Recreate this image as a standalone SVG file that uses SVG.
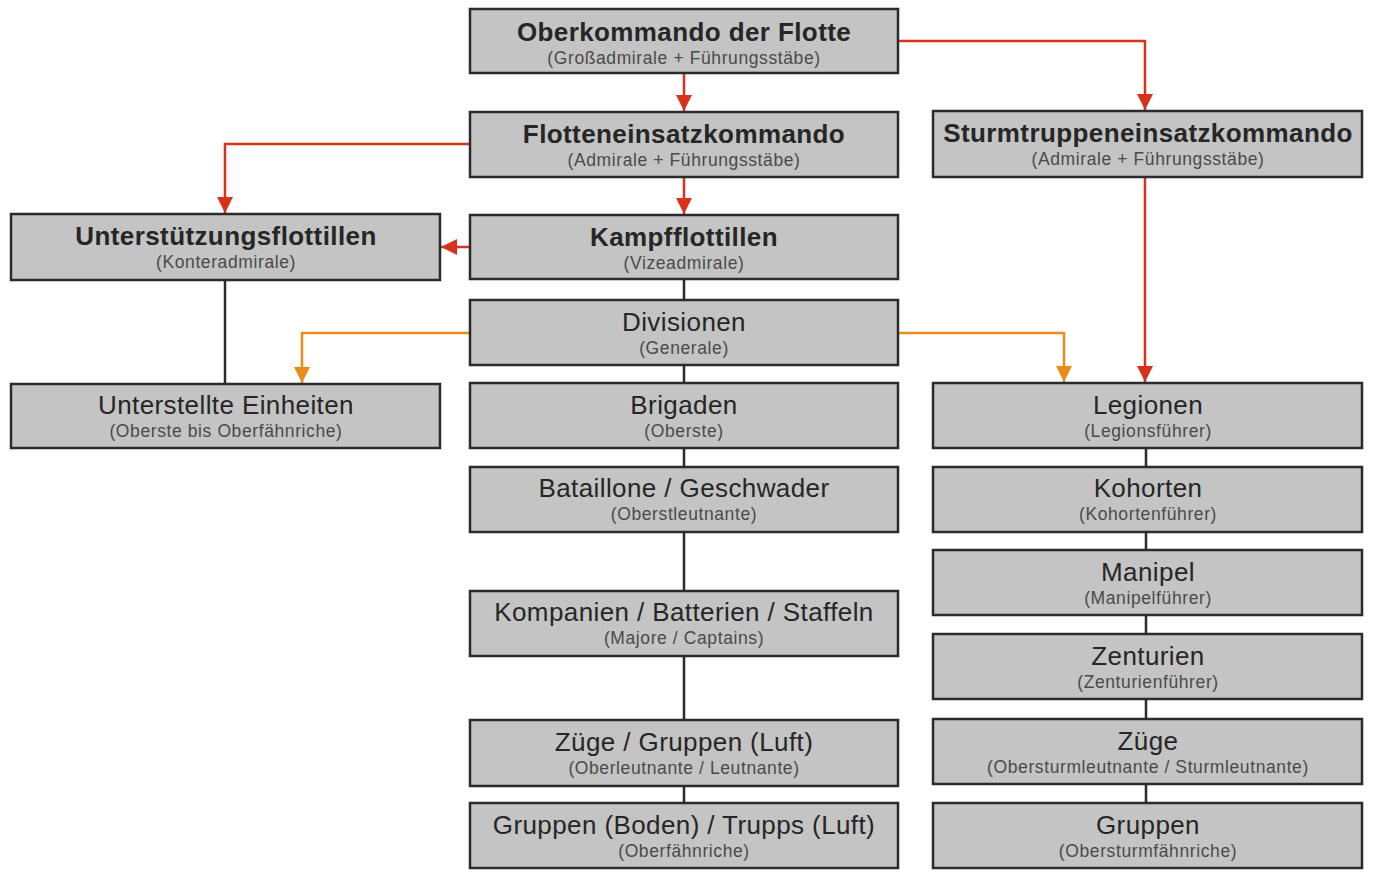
<svg xmlns="http://www.w3.org/2000/svg" width="1374" height="877" viewBox="0 0 1374 877">
<defs>
<style>
.box{fill:#c4c4c4;stroke:#2b2b2b;stroke-width:2.5}
.t{font-family:"Liberation Sans",Arial,sans-serif;font-size:26px;letter-spacing:0.4px;fill:#262626;text-anchor:middle}
.b{font-weight:bold}
.s{font-family:"Liberation Sans",Arial,sans-serif;font-size:17.5px;letter-spacing:0.6px;fill:#4a4a4a;text-anchor:middle}
.red{fill:none;stroke:#d8321f;stroke-width:2.5}
.org{fill:none;stroke:#e98c1c;stroke-width:2.5}
.blk{fill:none;stroke:#2b2b2b;stroke-width:2.5}
</style>
<marker id="ar" viewBox="0 0 10 10" refX="10" refY="5" markerWidth="16" markerHeight="16" markerUnits="userSpaceOnUse" orient="auto"><path d="M0,0 L10,5 L0,10 z" fill="#d8321f"/></marker>
<marker id="ao" viewBox="0 0 10 10" refX="10" refY="5" markerWidth="16" markerHeight="16" markerUnits="userSpaceOnUse" orient="auto"><path d="M0,0 L10,5 L0,10 z" fill="#e98c1c"/></marker>
</defs>
<rect width="1374" height="877" fill="#ffffff"/>
<g id="connectors">
<path class="blk" d="M684,279 V300 M684,365 V383 M684,448 V467 M684,532 V591 M684,656 V720 M684,786 V803"/>
<path class="blk" d="M225,280 V384"/>
<path class="blk" d="M1146,448 V467 M1146,532 V550 M1146,615 V634 M1146,699 V719 M1146,784 V803"/>
<path class="red" d="M684,74 V111" marker-end="url(#ar)"/>
<path class="red" d="M898,41 H1145 V110" marker-end="url(#ar)"/>
<path class="red" d="M470,144 H225 V213" marker-end="url(#ar)"/>
<path class="red" d="M684,177 V214" marker-end="url(#ar)"/>
<path class="red" d="M470,247 H441" marker-end="url(#ar)"/>
<path class="red" d="M1145,177 V382" marker-end="url(#ar)"/>
<path class="org" d="M470,333 H302 V383" marker-end="url(#ao)"/>
<path class="org" d="M898,333 H1064 V382" marker-end="url(#ao)"/>
</g>
<g id="oberkommando"><rect class="box" x="470" y="9" width="428" height="64"/><text class="t b" x="684" y="41">Oberkommando der Flotte</text><text class="s" x="684" y="64">(Großadmirale + Führungsstäbe)</text></g>
<g id="flotteneinsatz"><rect class="box" x="470" y="112" width="428" height="65"/><text class="t b" x="684" y="143">Flotteneinsatzkommando</text><text class="s" x="684" y="166">(Admirale + Führungsstäbe)</text></g>
<g id="sturmtruppen"><rect class="box" x="933" y="111" width="429" height="66"/><text class="t b" x="1148" y="142">Sturmtruppeneinsatzkommando</text><text class="s" x="1148" y="165">(Admirale + Führungsstäbe)</text></g>
<g id="unterstuetzung"><rect class="box" x="11" y="214" width="429" height="66"/><text class="t b" x="226" y="245">Unterstützungsflottillen</text><text class="s" x="226" y="268">(Konteradmirale)</text></g>
<g id="kampf"><rect class="box" x="470" y="215" width="428" height="64"/><text class="t b" x="684" y="246">Kampfflottillen</text><text class="s" x="684" y="269">(Vizeadmirale)</text></g>
<g id="divisionen"><rect class="box" x="470" y="300" width="428" height="65"/><text class="t" x="684" y="331">Divisionen</text><text class="s" x="684" y="354">(Generale)</text></g>
<g id="unterstellte"><rect class="box" x="11" y="384" width="429" height="64"/><text class="t" x="226" y="414">Unterstellte Einheiten</text><text class="s" x="226" y="437">(Oberste bis Oberfähnriche)</text></g>
<g id="brigaden"><rect class="box" x="470" y="383" width="428" height="65"/><text class="t" x="684" y="414">Brigaden</text><text class="s" x="684" y="437">(Oberste)</text></g>
<g id="bataillone"><rect class="box" x="470" y="467" width="428" height="65"/><text class="t" x="684" y="497">Bataillone / Geschwader</text><text class="s" x="684" y="520">(Oberstleutnante)</text></g>
<g id="kompanien"><rect class="box" x="470" y="591" width="428" height="65"/><text class="t" x="684" y="621">Kompanien / Batterien / Staffeln</text><text class="s" x="684" y="644">(Majore / Captains)</text></g>
<g id="zuege"><rect class="box" x="470" y="720" width="428" height="66"/><text class="t" x="684" y="751">Züge / Gruppen (Luft)</text><text class="s" x="684" y="774">(Oberleutnante / Leutnante)</text></g>
<g id="gruppen"><rect class="box" x="470" y="803" width="428" height="65"/><text class="t" x="684" y="834">Gruppen (Boden) / Trupps (Luft)</text><text class="s" x="684" y="857">(Oberfähnriche)</text></g>
<g id="legionen"><rect class="box" x="933" y="383" width="429" height="65"/><text class="t" x="1148" y="414">Legionen</text><text class="s" x="1148" y="437">(Legionsführer)</text></g>
<g id="kohorten"><rect class="box" x="933" y="467" width="429" height="65"/><text class="t" x="1148" y="497">Kohorten</text><text class="s" x="1148" y="520">(Kohortenführer)</text></g>
<g id="manipel"><rect class="box" x="933" y="550" width="429" height="65"/><text class="t" x="1148" y="581">Manipel</text><text class="s" x="1148" y="604">(Manipelführer)</text></g>
<g id="zenturien"><rect class="box" x="933" y="634" width="429" height="65"/><text class="t" x="1148" y="665">Zenturien</text><text class="s" x="1148" y="688">(Zenturienführer)</text></g>
<g id="zuege2"><rect class="box" x="933" y="719" width="429" height="65"/><text class="t" x="1148" y="750">Züge</text><text class="s" x="1148" y="773">(Obersturmleutnante / Sturmleutnante)</text></g>
<g id="gruppen2"><rect class="box" x="933" y="803" width="429" height="65"/><text class="t" x="1148" y="834">Gruppen</text><text class="s" x="1148" y="857">(Obersturmfähnriche)</text></g>
</svg>
